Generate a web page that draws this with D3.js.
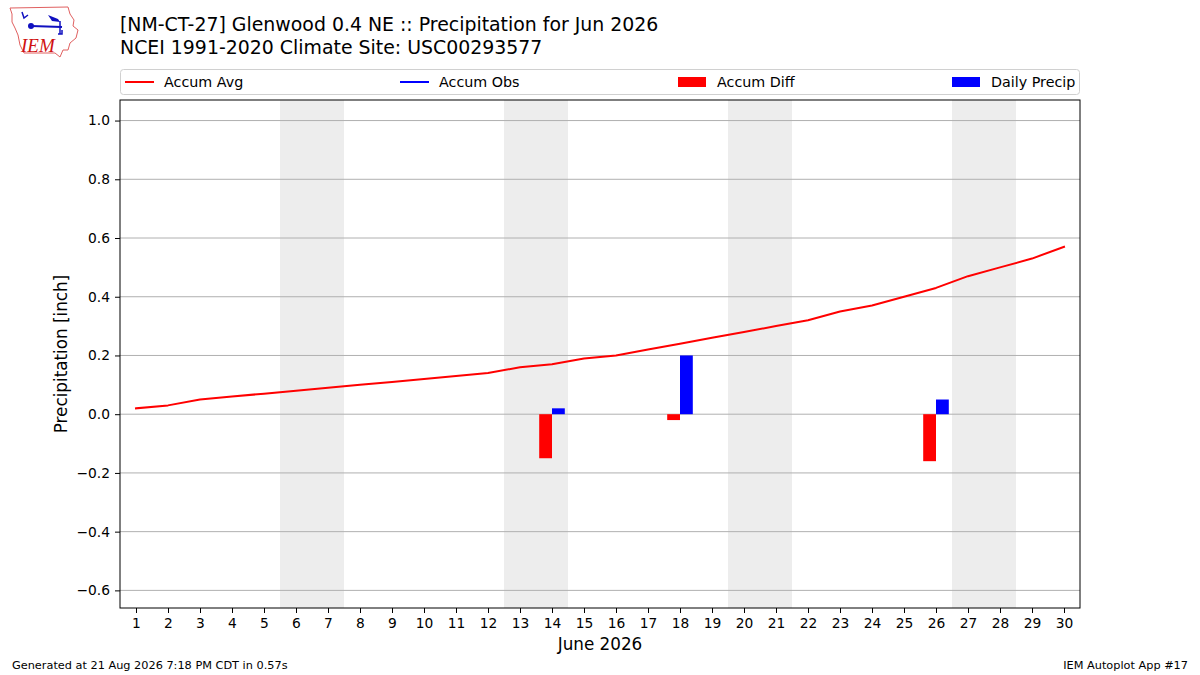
<!DOCTYPE html>
<html>
<head>
<meta charset="utf-8">
<script src="https://cdn.jsdelivr.net/npm/d3@7"></script>
<style>
  html, body { margin: 0; padding: 0; background: #fff; }
  svg { display: block; font-family: "DejaVu Sans", sans-serif; }
</style>
</head>
<body>
<svg id="chart" width="1200" height="675"></svg>
<script>
// ---- data ----
const days = d3.range(1, 31);
const accumAvg = [0.02, 0.03, 0.05, 0.06, 0.07, 0.08, 0.09, 0.10, 0.11, 0.12,
                  0.13, 0.14, 0.16, 0.17, 0.19, 0.20, 0.22, 0.24, 0.26, 0.28,
                  0.30, 0.32, 0.35, 0.37, 0.40, 0.43, 0.47, 0.50, 0.53, 0.57];
const precipDays = [14, 18, 26];
const dailyPrecip = [0.02, 0.20, 0.05];
const accumDiff = [-0.15, -0.02, -0.16];
const weekendStarts = [6, 13, 20, 27];
const yTicks = [-0.6, -0.4, -0.2, 0.0, 0.2, 0.4, 0.6, 0.8, 1.0];
const titleLines = ["[NM-CT-27] Glenwood 0.4 NE :: Precipitation for Jun 2026",
                    "NCEI 1991-2020 Climate Site: USC00293577"];
const legendItems = [
  {label: "Accum Avg", color: "#ff0000", type: "line"},
  {label: "Accum Obs", color: "#0000ff", type: "line"},
  {label: "Accum Diff", color: "#ff0000", type: "patch"},
  {label: "Daily Precip", color: "#0000ff", type: "patch"}
];

// ---- layout ----
const svg = d3.select("#chart");
const L = 120, R = 1080, T = 100, B = 608;
const x = d3.scaleLinear().domain([0.5, 30.5]).range([L, R]);
const y = d3.scaleLinear().domain([-0.66, 1.07]).range([B, T]);
const dayW = x(2) - x(1);
const barW = dayW * 0.4;

// weekend shading
svg.append("g").selectAll("rect").data(weekendStarts).join("rect")
  .attr("x", d => x(d - 0.5)).attr("width", d => x(d + 1.5) - x(d - 0.5))
  .attr("y", T).attr("height", B - T).attr("fill", "#ededed");

// grid
svg.append("g").selectAll("line").data(yTicks).join("line")
  .attr("x1", L).attr("x2", R).attr("y1", d => y(d)).attr("y2", d => y(d))
  .attr("stroke", "#b0b0b0").attr("stroke-width", 1);

// bars
svg.append("g").selectAll("rect").data(precipDays).join("rect")
  .attr("x", d => x(d) - barW).attr("width", barW)
  .attr("y", (d, i) => Math.min(y(0), y(accumDiff[i])))
  .attr("height", (d, i) => Math.abs(y(accumDiff[i]) - y(0)))
  .attr("fill", "#ff0000");
svg.append("g").selectAll("rect").data(precipDays).join("rect")
  .attr("x", d => x(d)).attr("width", barW)
  .attr("y", (d, i) => Math.min(y(0), y(dailyPrecip[i])))
  .attr("height", (d, i) => Math.abs(y(dailyPrecip[i]) - y(0)))
  .attr("fill", "#0000ff");

// accum avg line
svg.append("path")
  .datum(days.map((d, i) => [d, accumAvg[i]]))
  .attr("fill", "none").attr("stroke", "#ff0000").attr("stroke-width", 2)
  .attr("stroke-linejoin", "round").attr("stroke-linecap", "square")
  .attr("d", d3.line().x(d => x(d[0])).y(d => y(d[1])));

// axes
const fmt = v => (v < 0 ? "\u2212" : "") + Math.abs(v).toFixed(1);
const yAxis = svg.append("g").attr("transform", `translate(${L},0)`)
  .call(d3.axisLeft(y).tickValues(yTicks).tickFormat(fmt).tickSizeOuter(0).tickSize(5).tickPadding(5));
const xAxis = svg.append("g").attr("transform", `translate(0,${B})`)
  .call(d3.axisBottom(x).tickValues(days).tickFormat(d3.format("d")).tickSizeOuter(0).tickSize(5).tickPadding(5));
[yAxis, xAxis].forEach(a => {
  a.select(".domain").remove();
  a.selectAll("text").attr("font-size", 13.8).attr("font-family", "DejaVu Sans").attr("fill", "#000");
  a.selectAll("line").attr("stroke", "#000").attr("stroke-width", 1);
});

// frame
svg.append("rect").attr("x", L).attr("y", T).attr("width", R - L).attr("height", B - T)
  .attr("fill", "none").attr("stroke", "#000").attr("stroke-width", 1);

// axis labels
svg.append("text").attr("x", 600).attr("y", 650).attr("text-anchor", "middle")
  .attr("font-size", 16.8).text("June 2026");
svg.append("text").attr("transform", `translate(67,${(T + B) / 2}) rotate(-90)`)
  .attr("text-anchor", "middle").attr("font-size", 16.8).text("Precipitation [inch]");

// title
svg.append("g").selectAll("text").data(titleLines).join("text")
  .attr("x", 120).attr("y", (d, i) => 31 + i * 23)
  .attr("font-size", 18.9).text(d => d);

// legend
const lg = svg.append("g");
lg.append("rect").attr("x", 120.5).attr("y", 69.5).attr("width", 959).attr("height", 25)
  .attr("rx", 3).attr("fill", "#fff").attr("stroke", "#d0d0d0");
const legX = [125, 400, 678, 952];
legendItems.forEach((it, i) => {
  const g = lg.append("g").attr("transform", `translate(${legX[i]},82)`);
  if (it.type === "line") {
    g.append("line").attr("x1", 0).attr("x2", 29).attr("y1", 0).attr("y2", 0)
      .attr("stroke", it.color).attr("stroke-width", 2);
  } else {
    g.append("rect").attr("x", 0).attr("y", -5).attr("width", 28).attr("height", 10).attr("fill", it.color);
  }
  g.append("text").attr("x", 39).attr("y", 5).attr("font-size", 14.3).text(it.label);
});

// footer
svg.append("text").attr("x", 12).attr("y", 669).attr("font-size", 11.3).text("Generated at 21 Aug 2026 7:18 PM CDT in 0.57s");
svg.append("text").attr("x", 1188).attr("y", 669).attr("text-anchor", "end").attr("font-size", 11.3).text("IEM Autoplot App #17");

// logo (approximation of IEM Iowa logo)
const logo = svg.append("g");
logo.append("path")
  .attr("d", "M10,8 L68,7 L70,14 L74,20 L73,26 L78,30 L76,38 L70,43 L68,50 L63,50 L60,57 L55,53 L24,53 L20,45 L18,35 L15,28 L12,22 L12,14 Z")
  .attr("fill", "#fff").attr("stroke", "#e06060").attr("stroke-width", 1);
logo.append("text").attr("x", 21).attr("y", 52).attr("font-family", "Liberation Serif, serif")
  .attr("font-style", "italic").attr("font-size", 19).attr("fill", "#d01010").text("IEM");
logo.append("line").attr("x1", 31).attr("y1", 26).attr("x2", 62).attr("y2", 27).attr("stroke", "#1010c0").attr("stroke-width", 2);
logo.append("circle").attr("cx", 31).attr("cy", 26).attr("r", 3).attr("fill", "#1010c0");
logo.append("path").attr("d", "M48,15 L58,19 L60,22 L52,21 Z").attr("fill", "#1010c0");
logo.append("path").attr("d", "M22,12 L24,18 L28,15").attr("fill", "none").attr("stroke", "#1010c0").attr("stroke-width", 1.5);
logo.append("line").attr("x1", 60).attr("y1", 21).attr("x2", 60).attr("y2", 34).attr("stroke", "#1010c0").attr("stroke-width", 1.5);
logo.append("path").attr("d", "M58,34 L62,34 L62,30").attr("fill", "none").attr("stroke", "#1010c0").attr("stroke-width", 1.5);
</script>
</body>
</html>
